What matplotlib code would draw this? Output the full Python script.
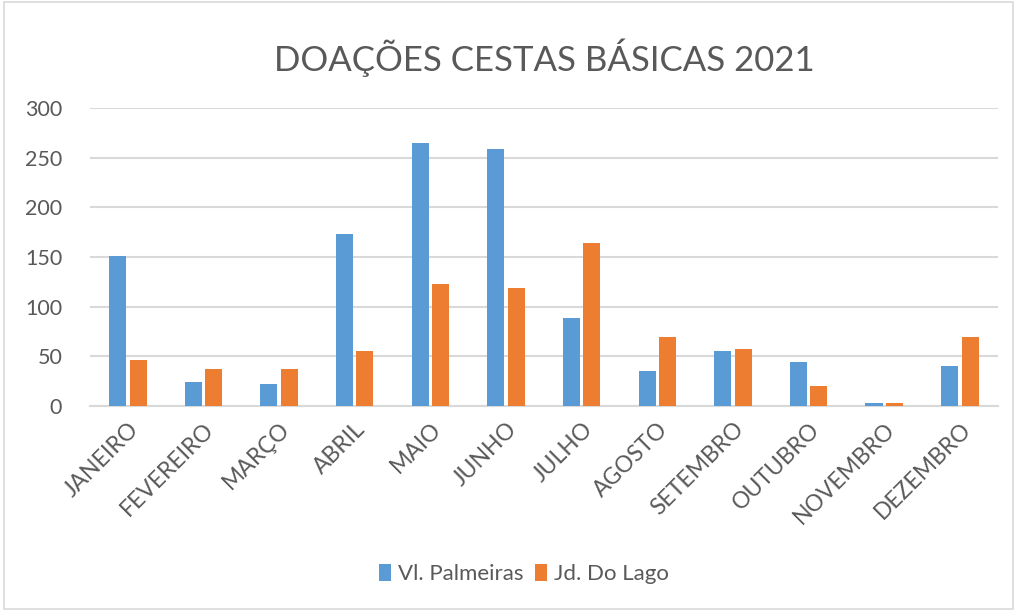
import matplotlib.pyplot as plt
import numpy as np
from matplotlib.patches import Rectangle

meses = ["JANEIRO", "FEVEREIRO", "MARÇO", "ABRIL", "MAIO", "JUNHO",
         "JULHO", "AGOSTO", "SETEMBRO", "OUTUBRO", "NOVEMBRO", "DEZEMBRO"]
vl_palmeiras = [151, 24, 22, 173, 265, 259, 89, 35, 55, 44, 3, 40]
jd_do_lago = [46, 37, 37, 55, 123, 119, 164, 70, 57, 20, 3, 70]

blue = "#5B9BD5"
orange = "#ED7D31"
txt = "#595959"
grid = "#D9D9D9"

plt.rcParams['font.family'] = ['Lato', 'DejaVu Sans']

fig = plt.figure(figsize=(10.17, 6.11), dpi=100, facecolor="white")
ax = fig.add_axes([0.0885, 0.3355, 0.8925, 0.4875])

x = np.arange(len(meses))
w = 0.225
off = 0.135
ax.bar(x - off, vl_palmeiras, w, color=blue, label="Vl. Palmeiras", zorder=3)
ax.bar(x + off, jd_do_lago, w, color=orange, label="Jd. Do Lago", zorder=3)

ax.set_xlim(-0.5, len(meses) - 0.5)
ax.set_ylim(0, 300)
ax.set_yticks(range(0, 301, 50))
ax.yaxis.grid(True, color=grid, linewidth=1.5, zorder=0)
ax.set_axisbelow(True)
for s in ["top", "right", "left"]:
    ax.spines[s].set_visible(False)
ax.spines["bottom"].set_color(grid)
ax.spines["bottom"].set_linewidth(1.5)
ax.tick_params(axis="both", length=0, colors=txt)
ax.tick_params(axis="y", pad=20, labelsize=15.5)
ax.set_xticks(x)
ax.set_xticklabels(meses, rotation=45, ha="right", rotation_mode="anchor",
                   fontsize=16.5, color=txt)
ax.tick_params(axis="x", pad=9)

fig.text(0.535, 0.905, "DOAÇÕES CESTAS BÁSICAS 2021", ha="center", va="center",
         fontsize=25, color=txt)

fig.legend(loc="center", bbox_to_anchor=(0.515, 0.06), ncol=2, frameon=False,
           fontsize=16, labelcolor=txt, handlelength=0.55, handleheight=0.8,
           handletextpad=0.3, columnspacing=0.5)

fig.patches.append(Rectangle((0.004, 0.003), 0.992, 0.994, transform=fig.transFigure,
                             fill=False, edgecolor=grid, linewidth=1.2))

plt.savefig("out.png", dpi=100, facecolor=fig.get_facecolor())
plt.close()
